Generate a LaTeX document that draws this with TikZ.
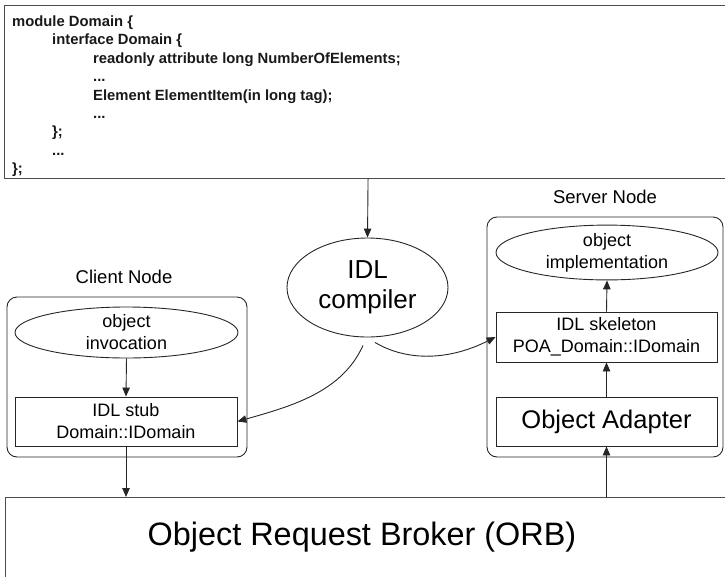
\documentclass[tikz,border=0pt]{standalone}
\usepackage{fontspec}
\setmainfont{Liberation Sans}
\usetikzlibrary{arrows.meta,shapes.geometric}
\begin{document}
\begin{tikzpicture}[x=1pt,y=-1pt,
  line/.style={draw=black!85, line width=0.9pt},
  arr/.style={draw=black!85, line width=0.9pt, -{Triangle[length=9pt,width=7.5pt]}},
  box/.style={line, rectangle, inner sep=0pt, align=center},
  oval/.style={line, ellipse, inner sep=0pt, align=center},
  nodebox/.style={line, rectangle, rounded corners=10pt, inner sep=0pt},
  small/.style={font=\fontsize{18}{22}\selectfont},
  lbl/.style={font=\fontsize{18.5}{22}\selectfont, inner sep=0pt},
  codetxt/.style={font=\fontsize{14.8}{18.4}\selectfont\bfseries, inner sep=0pt, align=left, text=black!90},
]
\clip (0,0) rectangle (725,576);

% IDL code box
\node[box, draw=black!70, line width=1.1pt, minimum width=727pt, minimum height=173pt, anchor=north west] (code) at (4,5) {};
\node[codetxt, anchor=north west] (codetext) at (12,15.5) {module Domain \{\\
\hspace*{40pt}interface Domain \{\\
\hspace*{81pt}readonly attribute long NumberOfElements;\\
\hspace*{81pt}...\\
\hspace*{81pt}Element ElementItem(in long tag);\\
\hspace*{81pt}...\\
\hspace*{40pt}\};\\
\hspace*{40pt}...\\
\};};

% IDL compiler
\node[oval, minimum width=161pt, minimum height=99pt, font=\fontsize{26}{30}\selectfont] (idl) at (367.5,287.5) {IDL\\compiler};

% Client side
\node[nodebox, minimum width=240pt, minimum height=160pt] (client) at (127,377) {};
\node[lbl] (clientlbl) at (124,277) {Client Node};
\node[oval, small, minimum width=223pt, minimum height=51pt] (inv) at (126.5,332.5) {object\\invocation};
\node[box, small, minimum width=222pt, minimum height=49pt] (stub) at (126,421.5) {IDL stub\\Domain::IDomain};

% Server side
\node[nodebox, minimum width=236pt, minimum height=240pt] (server) at (605,337) {};
\node[lbl] (serverlbl) at (605,197) {Server Node};
\node[oval, small, minimum width=222pt, minimum height=49pt] (impl) at (607,252.5) {object\\implementation};
\node[box, small, minimum width=221pt, minimum height=50pt] (skel) at (606.5,337) {IDL skeleton\\POA\_Domain::IDomain};
\node[box, minimum width=221pt, minimum height=49pt, font=\fontsize{25.5}{30}\selectfont] (adapter) at (606.5,421.5) {Object Adapter};

% ORB
\node[box, draw=black!70, line width=1.1pt, minimum width=740pt, minimum height=90pt, anchor=north west] (orb) at (5,497) {};
\node[inner sep=0pt, font=\fontsize{32.4}{36}\selectfont] (orbtext) at (362,537) {Object Request Broker (ORB)};

% connectors
\draw[arr] (code.south) -- (idl.north);
\draw[arr] (inv.south) -- (stub.north);
\draw[arr] (stub.south) -- (stub.south |- orb.north);
\draw[arr] (adapter.south |- orb.north) -- (adapter.south);
\draw[arr] (adapter.north) -- (skel.south);
\draw[arr] (skel.north) -- (impl.south);
\draw[arr] ([shift={(-4.5,8)}]idl.south) .. controls (342,392) and (292,406) .. (stub.east);
\draw[arr] ([shift={(7.5,5)}]idl.south) .. controls (408,362) and (450,360) .. (skel.west);
\end{tikzpicture}
\end{document}
